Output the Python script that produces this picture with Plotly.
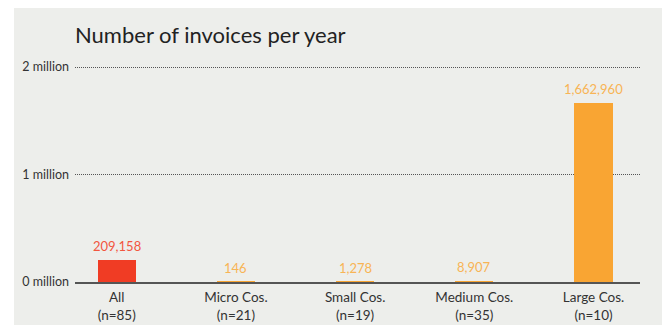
import plotly.graph_objects as go

categories = ["All<br>(n=85)", "Micro Cos.<br>(n=21)", "Small Cos.<br>(n=19)",
              "Medium Cos.<br>(n=35)", "Large Cos.<br>(n=10)"]
values = [209158, 146, 1278, 8907, 1662960]
labels = ["209,158", "146", "1,278", "8,907", "1,662,960"]
bar_colors = ["#f03c24", "#f9a533", "#f9a533", "#f9a533", "#f9a533"]
text_colors = ["#f2563f", "#f8b455", "#f8b455", "#f8b455", "#f8b455"]
tick_vals = [0, 1000000, 2000000]
tick_text = ["0 million", "1 million", "2 million"]

W, H = 662, 325
L, R, T, B = 75, 640, 66, 282

xs = list(range(len(categories)))
fig = go.Figure(go.Bar(
    x=xs, y=values, width=0.32,
    marker=dict(color=bar_colors, line=dict(width=0)),
    hoverinfo="skip",
))

for xi, v, lab, col in zip(xs, values, labels, text_colors):
    fig.add_annotation(x=xi, y=v, text=lab, showarrow=False,
                       yanchor="middle", yshift=14,
                       font=dict(size=13, color=col, family="Lato"))

pw, ph = R - L, B - T
fig.add_shape(type="rect", xref="paper", yref="paper", layer="below",
              x0=(14 - L) / pw, x1=(W - L) / pw + 0.01,
              y0=(B - H) / ph - 0.01, y1=(B - 8) / ph,
              fillcolor="#edeeeb", line=dict(width=0))

fig.update_layout(
    width=W, height=H,
    margin=dict(l=L, r=W - R, t=T, b=H - B, pad=0),
    paper_bgcolor="white", plot_bgcolor="rgba(0,0,0,0)",
    font=dict(family="Lato", color="#333333"),
    showlegend=False,
    title=dict(text="Number of invoices per year", x=L / W, xanchor="left",
               xref="container", y=1 - 35 / H, yanchor="middle", yref="container",
               font=dict(size=22, color="#222222", family="Lato")),
    bargap=0,
)
fig.update_xaxes(range=[-0.35, 4.39], tickvals=xs,
                 ticktext=categories, showgrid=False, zeroline=False,
                 showline=True, linecolor="#555555", linewidth=2,
                 tickfont=dict(size=13.5, color="#333333"),
                 ticks="", ticklen=0, ticklabelstandoff=2, automargin=False)
fig.update_yaxes(range=[0, 2010000], tickvals=tick_vals, ticktext=tick_text,
                 showgrid=True, gridcolor="#555555", griddash="1px,1px", gridwidth=1,
                 zeroline=False, showline=False,
                 ticks="", ticklen=0, tickwidth=0, ticklabelstandoff=5,
                 tickfont=dict(size=12.5, color="#333333"), automargin=False)

fig.write_html("out.html")
